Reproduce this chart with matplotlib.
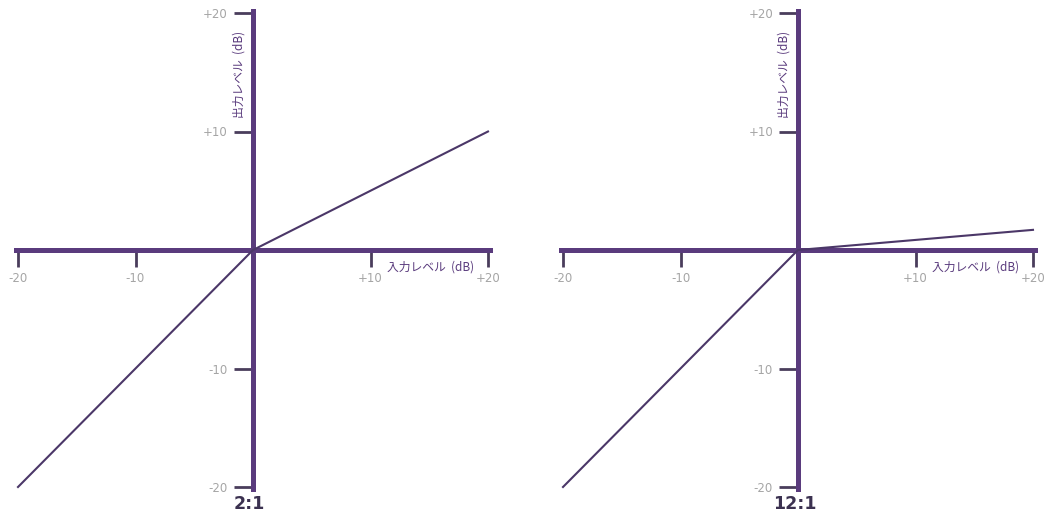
import matplotlib
matplotlib.use('Agg')
import matplotlib.pyplot as plt

# input level (dB) and output level for each compressor ratio
level_in = [-20, 0, 20]
out_2to1 = [-20, 0, 10]
out_12to1 = [-20, 0, 1.7]

tick_vals = [-20, -10, 10, 20]
tick_text = ['-20', '-10', '+10', '+20']

ratios = ['2:1', '12:1']
outputs = [out_2to1, out_12to1]

axis_col = '#5a3b7d'
line_col = '#4b3768'
jp_font = ['Noto Sans CJK JP', 'DejaVu Sans']

fig = plt.figure(figsize=(10.47, 5.15), dpi=100)
W, H = 1047, 515

# pixel position of the -20 tick on each panel
left_px = [18, 563]
scale_x = 11.75
scale_y = 11.85
top_px = 13

for k in range(2):
    x0 = left_px[k] - 0.2 * scale_x
    w = 40.4 * scale_x
    y_top = top_px - 0.2 * scale_y
    h = 40.4 * scale_y
    ax = fig.add_axes([x0 / W, 1 - (y_top + h) / H, w / W, h / H])
    ax.set_xlim(-20.2, 20.2)
    ax.set_ylim(-20.2, 20.2)

    ax.plot(level_in, outputs[k], color=line_col, lw=1.5, zorder=3)

    for side in ['top', 'right']:
        ax.spines[side].set_visible(False)
    ax.spines['left'].set_position('zero')
    ax.spines['bottom'].set_position('zero')
    for side in ['left', 'bottom']:
        ax.spines[side].set_color(axis_col)
        ax.spines[side].set_linewidth(3.6)
        ax.spines[side].set_zorder(2)

    ax.set_xticks(tick_vals)
    ax.set_xticklabels(tick_text)
    ax.set_yticks(tick_vals)
    ax.set_yticklabels(tick_text)
    ax.tick_params(axis='x', direction='out', length=12, width=2,
                   color='#4a3d5c', labelcolor='#a5a5a5', labelsize=8.5, pad=4)
    ax.tick_params(axis='y', direction='out', length=14, width=2,
                   color='#4a3d5c', labelcolor='#a5a5a5', labelsize=8.5, pad=4)
    ax.patch.set_alpha(0)

    ax.text(-1.2, 14.8, '出力レベル  (dB)', rotation=90, ha='center', va='center',
            fontsize=8.5, color=axis_col, family=jp_font,
            bbox=dict(facecolor='white', edgecolor='none', pad=1.5), zorder=4)
    ax.text(15.1, -1.4, '入力レベル  (dB)', ha='center', va='center',
            fontsize=8.5, color=axis_col, family=jp_font,
            bbox=dict(facecolor='white', edgecolor='none', pad=3), zorder=4)
    ax.text(-0.3, -21.4, ratios[k], ha='center', va='center', fontsize=12.5,
            fontweight='bold', color='#3b3150', clip_on=False)

fig.savefig('out.png', dpi=100, facecolor='white')
